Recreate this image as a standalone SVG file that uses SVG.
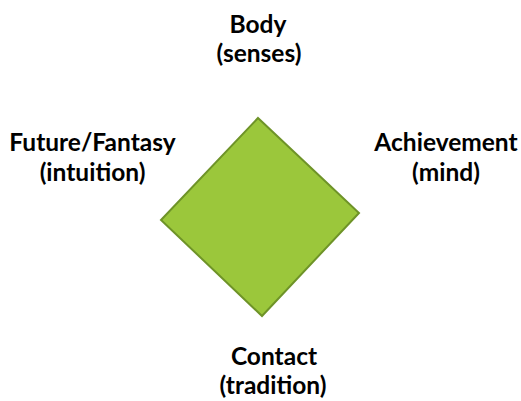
<svg xmlns="http://www.w3.org/2000/svg" width="521" height="401" viewBox="0 0 521 401">
  <style>
    .lbl { font-family: Lato, "Liberation Sans", sans-serif; font-weight: bold; font-size: 24.5px; fill: #000; text-anchor: middle; }
    .shape { fill: #9BC73B; stroke: #6E9328; stroke-width: 2; stroke-linejoin: miter; }
  </style>
  <rect width="521" height="401" fill="#fff"/>
  <g id="diamond">
    <polygon class="shape" points="258,118 359,213 262,316 161,220"/>
  </g>
  <g id="body">
    <text class="lbl" x="258" y="33">Body</text>
    <text class="lbl" x="259" y="62">(senses)</text>
  </g>
  <g id="achievement">
    <text class="lbl" x="446" y="151">Achievement</text>
    <text class="lbl" x="446" y="181">(mind)</text>
  </g>
  <g id="future">
    <text class="lbl" x="92.5" y="151">Future/Fantasy</text>
    <text class="lbl" x="92.5" y="181">(intuition)</text>
  </g>
  <g id="contact">
    <text class="lbl" x="274" y="365">Contact</text>
    <text class="lbl" x="273" y="394">(tradition)</text>
  </g>
  <g id="connectors"></g>
</svg>
